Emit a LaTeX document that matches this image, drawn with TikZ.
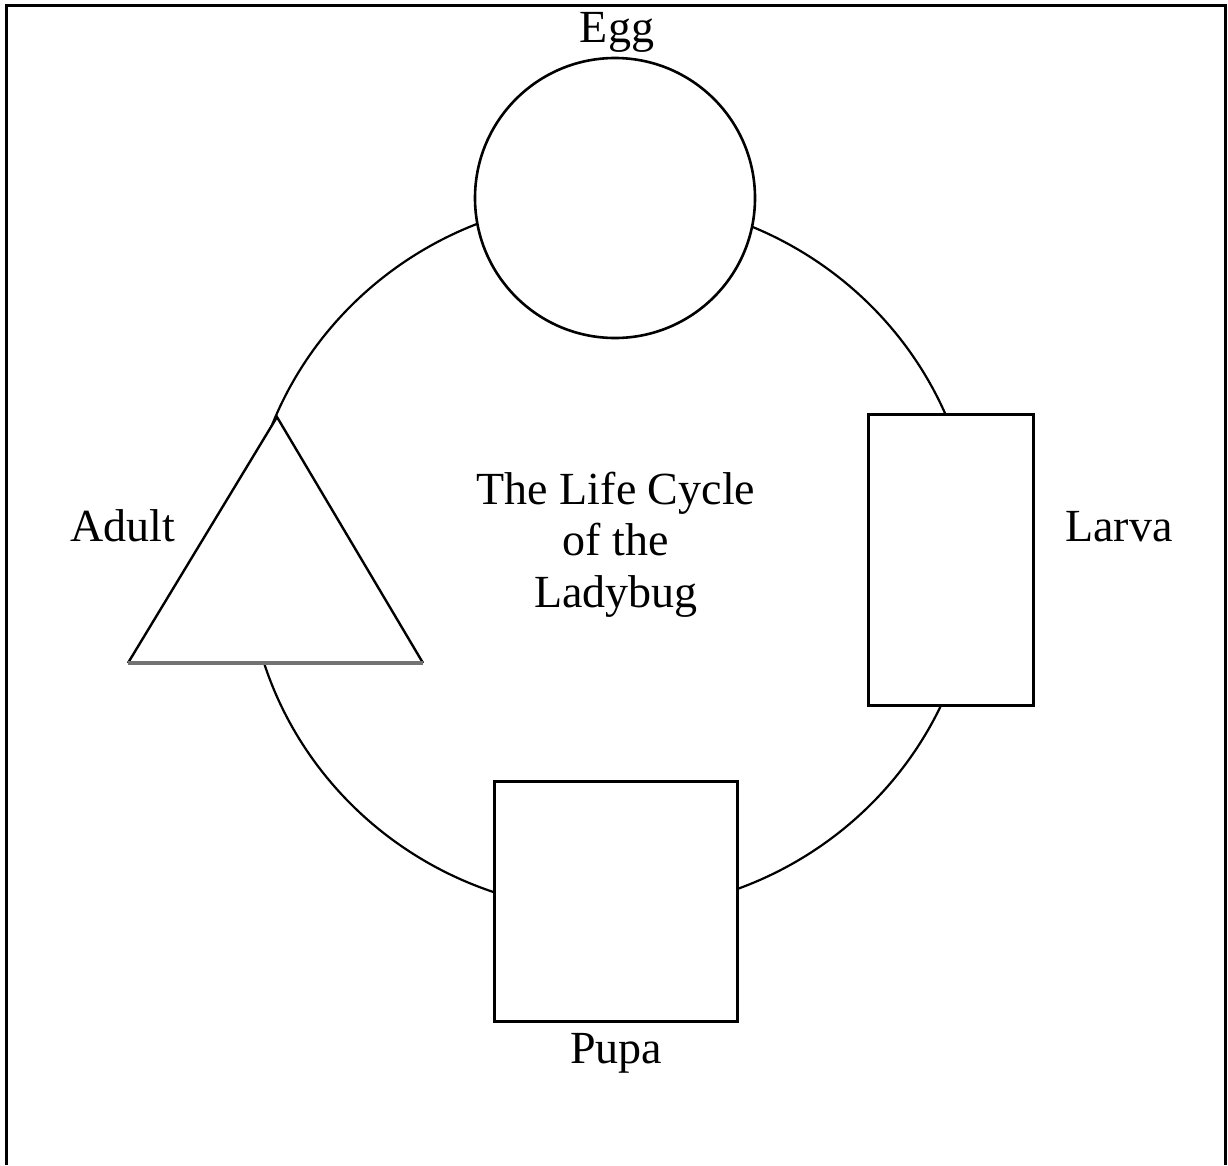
\documentclass[tikz,border=0pt]{standalone}
\usepackage{fontspec}
\setmainfont{Liberation Serif}
\usetikzlibrary{positioning}
\pgfdeclarelayer{background}
\pgfsetlayers{background,main}

\begin{document}
\begin{tikzpicture}[
x=1pt,y=-1pt,
stage/.style={
	draw,
	fill=white,
	line width=2.6pt,
	inner sep=0pt
},
box/.style={
	stage,
	rectangle,
	line width=3pt
},
caption/.style={
	font=\fontsize{46}{51.5}\selectfont,
	inner sep=0pt
},
ring/.style={
	line width=2.2pt
}
]
\useasboundingbox (0,0) rectangle (1228,1165);
% frame, open at the bottom
\draw[line width=3.5pt] (6.5,1165) |- (1225.5,5.5) -- (1225.5,1165);

\node[stage,circle,minimum size=280pt] (egg) at (615,198) {};
\node[box,minimum width=165pt,minimum height=291pt] (larva) at (950.5,559.5) {};
\node[box,minimum width=243pt,minimum height=240pt] (pupa) at (615.5,901) {};

\coordinate (adult top) at (277,417);
\coordinate (adult left) at (128,663);
\coordinate (adult right) at (423,663);
\fill[white] (adult top) -- (adult left) -- (adult right) -- cycle;
\draw[line width=2.4pt] (adult left) -- (adult top) -- (adult right);
\draw[line width=4pt,black!55] (adult left) -- (adult right);

\node[caption,anchor=base] (egg label) at (617,42) {Egg};
\node[caption,anchor=base west] (larva label) at (1065,541) {Larva};
\node[caption,anchor=base] (pupa label) at (616,1063) {Pupa};
\node[caption,anchor=base west] (adult label) at (70,541) {Adult};
\node[caption,align=center,anchor=north] (title) at (616,471.5)
	{The Life Cycle\\of the\\Ladybug};

\begin{pgfonlayer}{background}
\draw[ring] (611,555) ellipse [x radius=364, y radius=356];
\end{pgfonlayer}
\end{tikzpicture}
\end{document}
